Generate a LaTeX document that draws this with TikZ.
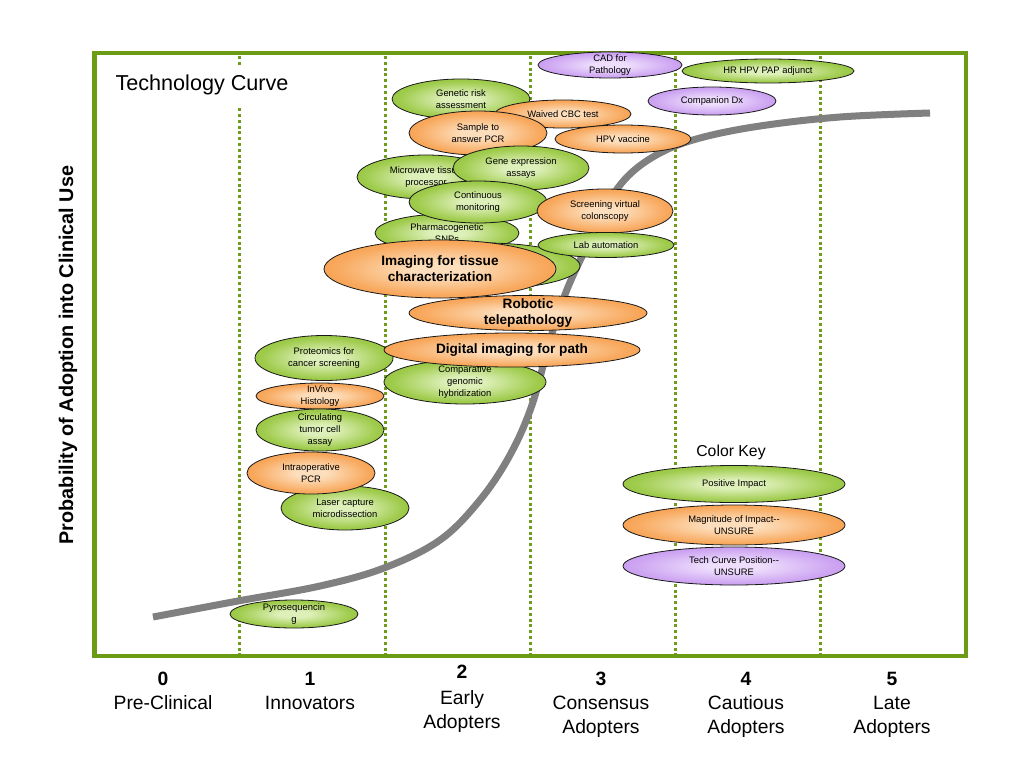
\documentclass[tikz,border=0pt]{standalone}
\usepackage{fontspec}
\setmainfont{Liberation Sans}
\usetikzlibrary{shapes.geometric}
\definecolor{gIn}{RGB}{222,240,186}
\definecolor{gMid}{RGB}{160,204,78}
\definecolor{gOut}{RGB}{116,176,18}
\definecolor{oIn}{RGB}{253,222,188}
\definecolor{oMid}{RGB}{248,170,96}
\definecolor{oOut}{RGB}{243,128,22}
\definecolor{pIn}{RGB}{238,222,252}
\definecolor{pMid}{RGB}{206,166,242}
\definecolor{pOut}{RGB}{172,114,230}
\definecolor{frameG}{RGB}{108,156,22}
\definecolor{dotG}{RGB}{112,156,30}
\definecolor{curveC}{RGB}{128,128,128}
\pgfdeclareradialshading{gshade}{\pgfpointorigin}{color(0bp)=(gIn);color(6bp)=(gIn);color(22bp)=(gMid);color(42bp)=(gOut);color(50bp)=(gOut)}
\pgfdeclareradialshading{oshade}{\pgfpointorigin}{color(0bp)=(oIn);color(6bp)=(oIn);color(22bp)=(oMid);color(42bp)=(oOut);color(50bp)=(oOut)}
\pgfdeclareradialshading{pshade}{\pgfpointorigin}{color(0bp)=(pIn);color(6bp)=(pIn);color(22bp)=(pMid);color(42bp)=(pOut);color(50bp)=(pOut)}
\tikzset{
  ell/.style={ellipse, draw=black!90, line width=0.8pt, inner xsep=0pt, inner ysep=-5pt,
    align=center, font=\fontsize{9.4}{12}\selectfont},
  gell/.style={ell, shade, shading=gshade},
  oell/.style={ell, shade, shading=oshade},
  pell/.style={ell, shade, shading=pshade},
  sz/.style 2 args={minimum width=#1pt, minimum height=#2pt},
  bigtxt/.style={font=\fontsize{13.6}{16}\selectfont\bfseries},
  frameline/.style={draw=frameG, line width=4.5pt},
  dotline/.style={draw=dotG, line width=3pt, dash pattern=on 3pt off 2.8pt},
  curveline/.style={draw=curveC, line width=7pt},
  axlab/.style={font=\fontsize{19.3}{24}\selectfont, anchor=base, inner sep=0pt},
  axnum/.style={font=\fontsize{19.3}{24}\selectfont\bfseries, anchor=base, inner sep=0pt},
}
\begin{document}
\begin{tikzpicture}[x=1pt,y=-1pt]
\useasboundingbox[fill=white] (0,0) rectangle (1024,768);
% frame and grid
\draw[frameline] (94.5,53) rectangle (966,656);
\foreach \i in {1,...,5} \draw[dotline] ({94.5+145.25*\i},56) -- ({94.5+145.25*\i},654);
\node[fill=white, inner xsep=4pt, inner ysep=10pt, font=\fontsize{21.6}{24}\selectfont] (title) at (202,85) {Technology Curve};
% curve
\draw[curveline] plot[smooth, tension=0.6] coordinates {(153,617) (238,601) (320,586) (384,568) (440,540) (480,500) (510,455) (532,405) (550,340) (566,292) (585,250) (605,208) (628,176) (660,153) (700,138) (760,126) (840,117) (930,113)};
% ellipses
\node[gell, sz={138}{40}] (genrisk) at (461,99) {Genetic risk\\assessment};
\node[oell, sz={136}{28}] (waived) at (563,114) {Waived CBC test};
\node[oell, sz={138}{44}] (sample) at (478,133) {Sample to\\answer PCR};
\node[oell, sz={136}{28}] (hpvvac) at (623,139) {HPV vaccine};
\node[pell, sz={144}{26}] (cad) at (610,65) {CAD for\\Pathology};
\node[gell, sz={172}{24}] (hrhpv) at (768,71) {HR HPV PAP adjunct};
\node[pell, sz={128}{28}] (compdx) at (712,101) {Companion Dx};
\node[gell, sz={138}{44}] (micro) at (426,177) {Microwave tissue\\processor};
\node[gell, sz={136}{44}] (geneexp) at (521,168) {Gene expression\\assays};
\node[gell, sz={144}{38}] (pharma) at (447,233) {Pharmacogenetic\\SNPs};
\node[gell, sz={138}{42}] (contmon) at (478,202) {Continuous\\monitoring};
\node[oell, sz={136}{44}] (screen) at (605,211) {Screening virtual\\colonscopy};
\node[gell, sz={190}{46}] (hiddeng) at (485,266) {};
\node[gell, sz={136}{25}] (labaut) at (606,245) {Lab automation};
\node[oell, bigtxt, sz={238}{35}] (robotic) at (528,313) {Robotic\\telepathology};
\node[oell, bigtxt, sz={232}{58}] (imaging) at (440,269) {Imaging for tissue\\characterization};
\node[gell, sz={162}{44}] (compgen) at (465,382) {Comparative\\genomic\\hybridization};
\node[gell, sz={138}{45}] (proteo) at (324,358) {Proteomics for\\cancer screening};
\node[oell, bigtxt, sz={256}{34}] (digital) at (512,350) {Digital imaging for path};
\node[oell, sz={128}{26}] (invivo) at (320,396) {InVivo\\Histology};
\node[gell, sz={128}{42}] (circ) at (320,430) {Circulating\\tumor cell\\assay};
\node[gell, sz={128}{44}] (laser) at (345,508) {Laser capture\\microdissection};
\node[oell, sz={128}{42}] (intraop) at (311,473) {Intraoperative\\PCR};
\node[gell, sz={128}{28}] (pyro) at (294,614) {Pyrosequencin\\g};
% color key
\node[font=\fontsize{15.8}{18}\selectfont] (keytitle) at (731,452) {Color Key};
\node[gell, sz={222}{37}] (keyg) at (734,484) {Positive Impact};
\node[oell, sz={222}{40}] (keyo) at (734,525) {Magnitude of Impact-{}-\\UNSURE};
\node[pell, sz={222}{38}] (keyp) at (734,566) {Tech Curve Position-{}-\\UNSURE};
% y axis label
\node[rotate=90, font=\fontsize{19.8}{22}\selectfont\bfseries] (ylab) at (68,355) {Probability of Adoption into Clinical Use};
% x axis labels
\node[axnum] (d0) at (163,685) {0};
\node[axlab] (t0) at (163,709) {Pre-Clinical};
\node[axnum] (d1) at (310,685) {1};
\node[axlab] (t1) at (310,709) {Innovators};
\node[axnum] (d2) at (462,678) {2};
\node[axlab] (t2a) at (462,704) {Early};
\node[axlab] (t2b) at (462,728) {Adopters};
\node[axnum] (d3) at (601,685) {3};
\node[axlab] (t3a) at (601,709) {Consensus};
\node[axlab] (t3b) at (601,733) {Adopters};
\node[axnum] (d4) at (746,685) {4};
\node[axlab] (t4a) at (746,709) {Cautious};
\node[axlab] (t4b) at (746,733) {Adopters};
\node[axnum] (d5) at (892,685) {5};
\node[axlab] (t5a) at (892,709) {Late};
\node[axlab] (t5b) at (892,733) {Adopters};
\end{tikzpicture}
\end{document}
